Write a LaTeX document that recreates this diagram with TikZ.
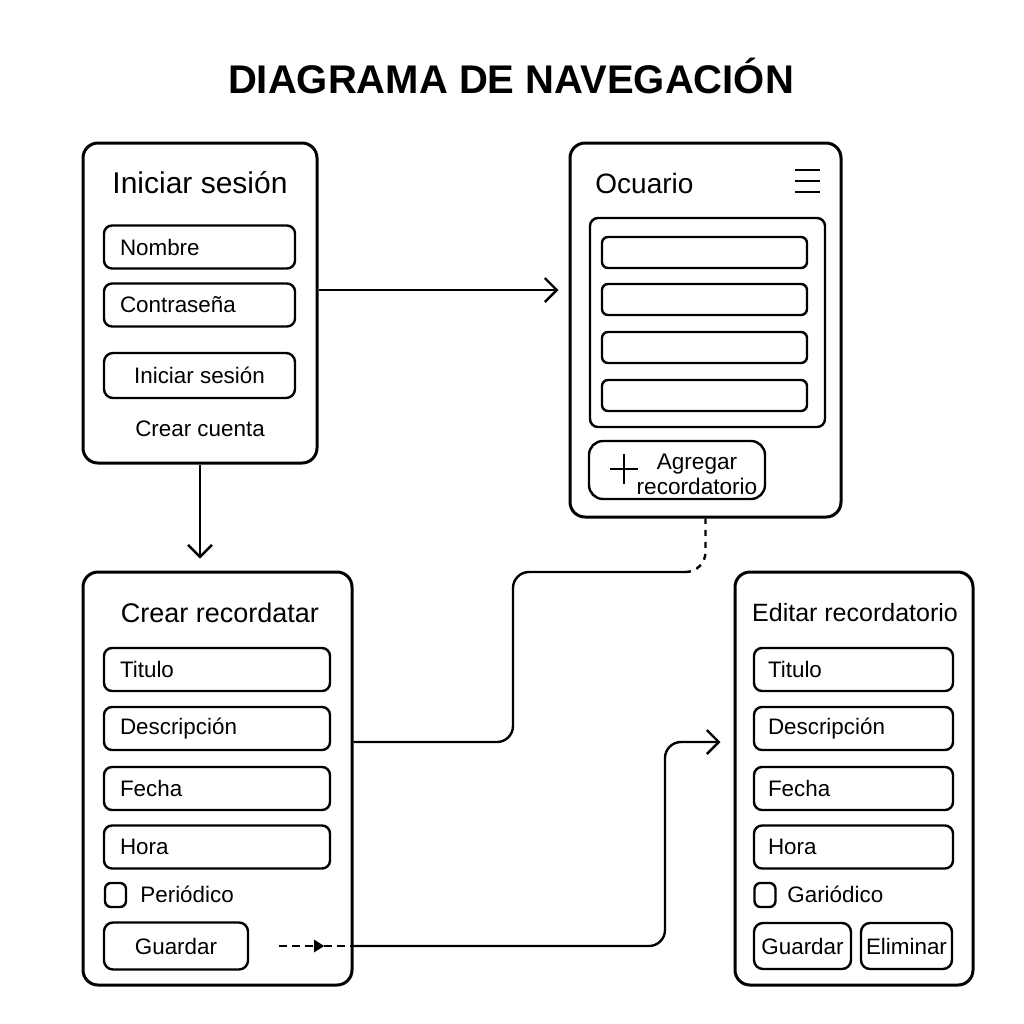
\documentclass[tikz,border=0pt]{standalone}
\usepackage{fontspec}
\setmainfont{Liberation Sans}
\usetikzlibrary{arrows.meta,positioning}
\tikzstyle{link} = [line width=1.2pt,->,>={Straight Barb[length=6pt,width=12pt]}]

\begin{document}
\begin{tikzpicture}[
    x=0.5pt, y=-0.5pt,
    screen/.style={rectangle, rounded corners=7.5pt, draw, line width=1.5pt},
    panel/.style={rectangle, rounded corners=4pt, draw, line width=1.2pt},
    heading/.style={font=\fontsize{14}{17}\selectfont},
    small/.style={font=\fontsize{11.2}{13}\selectfont},
    field/.style={rectangle, rounded corners=4pt, draw, line width=1.2pt, minimum height=21.5pt, inner xsep=8pt, align=left, font=\fontsize{11.2}{13}\selectfont},
    button/.style={rectangle, rounded corners=4.5pt, draw, line width=1.2pt, minimum height=23pt, inner sep=1pt, font=\fontsize{11.2}{13}\selectfont},
    check/.style={rectangle, rounded corners=3pt, draw, line width=1.2pt, minimum width=10.5pt, minimum height=12pt, inner sep=0pt},
    wire/.style={line width=1.2pt}
]
\useasboundingbox (0,0) rectangle (1024,1024);

% Title
\node (title) [font=\fontsize{20}{24}\selectfont\bfseries] at (511,76) {DIAGRAMA DE NAVEGACIÓN};

% Login screen
\node (login) [screen, minimum width=117pt, minimum height=160pt] at (200,303) {};
\node (loginhead) [heading, font=\fontsize{15}{18}\selectfont] at (200,183) {Iniciar sesión};
\node (nombre) [field, text width=79.5pt] at (199.5,247) {Nombre};
\node (clave) [field, text width=79.5pt] at (199.5,305) {Contraseña};
\node (entrar) [button, minimum width=95.5pt, minimum height=22.5pt] at (199.5,375.5) {Iniciar sesión};
\node (cuenta) [small] at (200,429) {Crear cuenta};

% User screen
\node (ocuario) [screen, minimum width=135.5pt, minimum height=187pt] at (705.5,330) {};
\node (ocuariohead) [heading, anchor=west, inner xsep=0pt] at (595,183) {Ocuario};
\foreach \y in {170,181,192}
    \draw[line width=1.4pt] (795,\y) -- (820,\y);
\node (lista) [panel, minimum width=117.5pt, minimum height=104.5pt] at (707.5,322.5) {};
\foreach \y [count=\i] in {252.5,299.5,347.5,395.5}
    \node (fila\i) [panel, rounded corners=3pt, minimum width=102.5pt, minimum height=15.5pt] at (704.5,\y) {};
\node (agregar) [button, rounded corners=7pt, minimum width=88pt, minimum height=29pt] at (677,470) {};
\draw[line width=1pt] (610,469) -- (638,469) (624,454) -- (624,484);
\node (agregartxt) [small, align=center, font=\fontsize{11.3}{12.5}\selectfont] at (697,474.5) {Agregar\\recordatorio};

% Create screen
\node (crear) [screen, minimum width=134.5pt, minimum height=206.5pt] at (217.5,778.5) {};
\node (crearhead) [heading, font=\fontsize{13.5}{16}\selectfont] at (220,613) {Crear recordatar};
\foreach \y/\t [count=\i] in {669.5/Titulo,728.5/Descripción,788.5/Fecha,847/Hora}
    \node (cf\i) [field, text width=97pt] at (217,\y) {\t};
\node (cbox) [check] at (115.5,895) {};
\node (cper) [small, anchor=west, inner xsep=0pt] at (140,894) {Periódico};
\node (guardar) [button, minimum width=72pt, minimum height=23.5pt] at (176,946) {Guardar};

% Edit screen
\node (editar) [screen, minimum width=119pt, minimum height=206.5pt] at (854,778.5) {};
\node (editarhead) [heading, font=\fontsize{12.5}{15}\selectfont] at (855,613) {Editar recordatorio};
\foreach \y/\t [count=\i] in {669.5/Titulo,728.5/Descripción,788.5/Fecha,847/Hora}
    \node (ef\i) [field, text width=85.5pt, inner xsep=7pt] at (853.5,\y) {\t};
\node (ebox) [check] at (765,895) {};
\node (eper) [small, anchor=west, inner xsep=0pt] at (787,894) {Gariódico};
\node (eguardar) [button, minimum width=48.5pt] at (802.5,946) {Guardar};
\node (eliminar) [button, minimum width=45.5pt] at (906.5,946) {Eliminar};

% Connections
\coordinate (la) at ([yshift=6.5pt]login.east);
\draw[link, shorten >=5pt] (la) -- (la -| ocuario.west);
\draw[link, shorten >=6pt] (login.south) -- (login.south |- crear.north);

\coordinate (c2) at (513,572);
\coordinate (c3) at (685,572);
\coordinate (e1) at (665,742);
\draw[wire, rounded corners=8pt] (crear.east |- e1) -| (c2) -- (c3);
\draw[wire, dashed, rounded corners=10pt] (c3) -| (ocuario.south);

\coordinate (g1) at ([xshift=15pt]guardar.east);
\coordinate (g2) at ([xshift=22.5pt]g1);
\draw[wire, dash pattern=on 4pt off 2.5pt, -{Triangle[length=5pt,width=6pt]}] (g1) -- (g2);
\draw[wire, dash pattern=on 4pt off 2.5pt] (g2) -- (crear.east |- g1);
\draw[link, rounded corners=8pt, shorten >=6.5pt] (crear.east |- g1) -| (e1) -- (editar.west |- e1);
\end{tikzpicture}
\end{document}
